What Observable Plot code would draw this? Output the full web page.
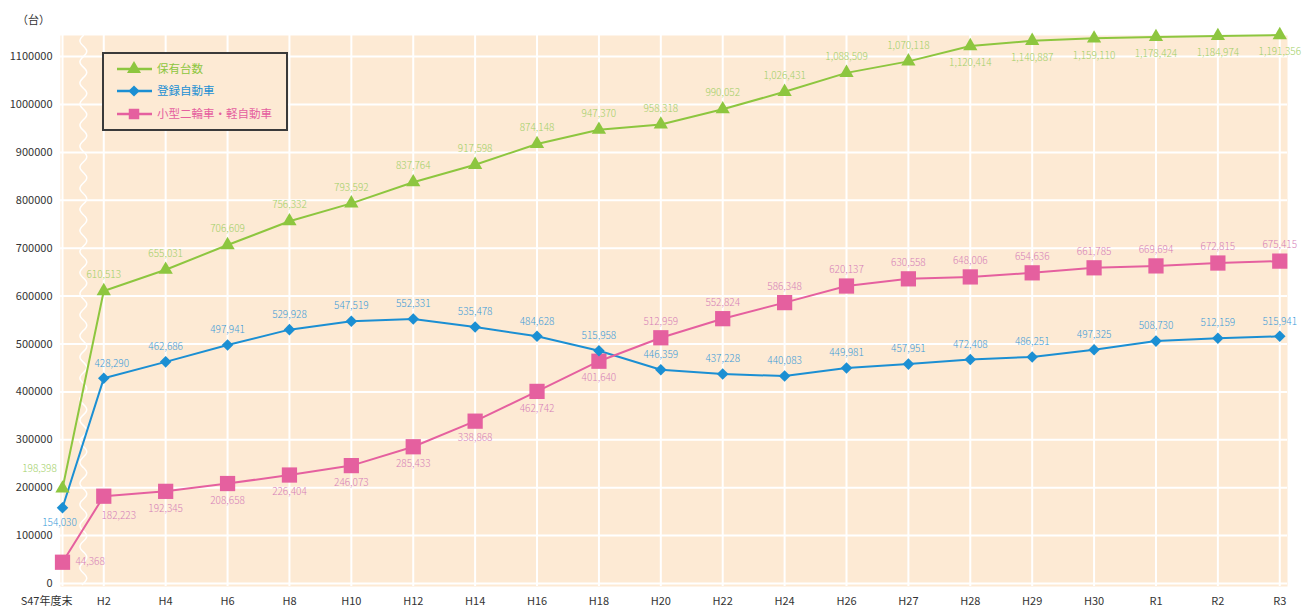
<!DOCTYPE html>
<html>
<head>
<meta charset="utf-8">
<script src="https://cdn.jsdelivr.net/npm/d3@7"></script>
<script src="https://cdn.jsdelivr.net/npm/@observablehq/plot@0.6"></script>
<style>
  body { margin: 0; background: #ffffff; font-family: "Noto Sans CJK JP", "Noto Sans", sans-serif; }
  #wrap { position: relative; width: 1302px; height: 610px; }
  #unit { position: absolute; left: 17px; top: 11px; font-size: 11px; color: #333; }
  #legend { position: absolute; left: 102px; top: 52px; width: 182px; height: 75px; border: 2px solid #3a3a3a; background: #fdead4; }
  #legend svg { display: block; }
</style>
</head>
<body>
<div id="wrap">
  <div id="chart"></div>
  <div id="unit">（台）</div>
  <div id="legend"></div>
</div>
<script>
// ---- data ----
const categories = ["S47年度末","H2","H4","H6","H8","H10","H12","H14","H16","H18","H20","H22","H24","H26","H27","H28","H29","H30","R1","R2","R3"];
const seriesNames = ["保有台数","登録自動車","小型二輪車・軽自動車"];

const totalValues = [198398, 610513, 655031, 706609, 756332, 793592, 837764, 874148, 917598, 947370, 958318, 990052, 1026431, 1066000, 1090000, 1122000, 1133000, 1138000, 1141000, 1143000, 1145000];
const totalLabels = ["198,398","610,513","655,031","706,609","756,332","793,592","837,764","917,598","874,148","947,370","958,318","990,052","1,026,431","1,088,509","1,070,118","1,120,414","1,140,887","1,159,110","1,178,424","1,184,974","1,191,356"];

const registeredValues = [158000, 428290, 462686, 497941, 529928, 547519, 552331, 535478, 516000, 486000, 446359, 437228, 433000, 449981, 457951, 467500, 473000, 488000, 506000, 512159, 515941];
const registeredLabels = ["154,030","428,290","462,686","497,941","529,928","547,519","552,331","535,478","484,628","515,958","446,359","437,228","440,083","449,981","457,951","472,408","486,251","497,325","508,730","512,159","515,941"];

const lightValues = [44368, 182223, 192345, 208658, 226404, 246073, 285433, 338868, 401000, 464000, 512959, 552824, 586348, 621000, 636000, 640000, 648500, 659000, 663000, 669000, 673000];
const lightLabels = ["44,368","182,223","192,345","208,658","226,404","246,073","285,433","338,868","462,742","401,640","512,959","552,824","586,348","620,137","630,558","648,006","654,636","661,785","669,694","672,815","675,415"];

const yTicks = [0,100000,200000,300000,400000,500000,600000,700000,800000,900000,1000000,1100000];

// ---- styles ----
const lineColors = ["#8dc63f", "#1b8fd3", "#e5609f"];
const labelColors = ["#a2cf66", "#3a9ad9", "#d680b8"];
const symbols = ["triangle", "diamond2", "square"];
const symbolR = [5.3, 5.2, 8.6];
const bg = "#fdead4";

// x position: the first year sits closer (axis break)
const xPos = categories.map((c, i) => i === 0 ? 1/3 : i);
const xLabel = new Map(xPos.map((x, i) => [x, categories[i]]));

const allValues = [totalValues, registeredValues, lightValues];
const allLabels = [totalLabels, registeredLabels, lightLabels];
const rows = [];
allValues.forEach((vals, k) => vals.forEach((v, i) => rows.push({k, i, x: xPos[i], v, label: allLabels[k][i]})));
const S = k => rows.filter(d => d.k === k);

// decorative break squiggle
const wave = d3.range(1144000, -6400, -6000).map(y => ({y, x: 0.67 + 0.055 * Math.sin(y / 44000 * 2 * Math.PI)}));

const fontFamily = '"Noto Sans CJK JP", "Noto Sans", sans-serif';
const txt = (data, k, o) => Plot.text(data, {x: "x", y: "v", text: "label", fill: labelColors[k], fontSize: 10, fontWeight: 300, ...o});

const marks = [
  Plot.frame({fill: bg, stroke: "none"}),
  Plot.ruleY(yTicks, {stroke: "#ffffff", strokeWidth: 2}),
  Plot.ruleX(xPos, {stroke: "#ffffff", strokeWidth: 2}),
  Plot.line(wave, {x: "x", y: "y", stroke: "#ffffff", strokeWidth: 1.5, curve: "natural"}),
  Plot.axisY({ticks: yTicks, tickFormat: d3.format("d"), tickSize: 0, tickPadding: 8, fontSize: 11, color: "#333", label: null}),
  Plot.axisX({ticks: [xPos[0]], tickFormat: d => xLabel.get(d), tickSize: 0, tickPadding: 11, dx: -16, fontSize: 11, color: "#333", label: null}),
  Plot.axisX({ticks: xPos.slice(1), tickFormat: d => xLabel.get(d), tickSize: 0, tickPadding: 11, fontSize: 11, color: "#333", label: null})
];
[0, 1, 2].forEach(k => {
  marks.push(Plot.line(S(k), {x: "x", y: "v", stroke: lineColors[k], strokeWidth: 2}));
});
[2, 1, 0].forEach(k => {
  marks.push(Plot.dot(S(k), {x: "x", y: "v", symbol: symbols[k], r: symbolR[k], fill: lineColors[k], stroke: "none"}));
});
// labels: total
marks.push(txt(S(0).filter(d => d.i === 0), 0, {dx: -23, dy: -20}));
marks.push(txt(S(0).filter(d => d.i >= 1 && d.i <= 14), 0, {dy: -16}));
marks.push(txt(S(0).filter(d => d.i >= 15), 0, {dy: 17}));
// labels: registered
marks.push(txt(S(1).filter(d => d.i === 0), 1, {dx: -3, dy: 15}));
marks.push(txt(S(1).filter(d => d.i === 1), 1, {dx: 8, dy: -15}));
marks.push(txt(S(1).filter(d => d.i >= 2), 1, {dy: -15}));
// labels: light vehicles
marks.push(txt(S(2).filter(d => d.i === 0), 2, {dx: 13, textAnchor: "start"}));
marks.push(txt(S(2).filter(d => d.i === 1), 2, {dx: 15, dy: 20}));
marks.push(txt(S(2).filter(d => d.i >= 2 && d.i <= 9), 2, {dy: 17}));
marks.push(txt(S(2).filter(d => d.i >= 10), 2, {dy: -16}));

const chart = Plot.plot({
  width: 1302,
  height: 610,
  marginLeft: 60,
  marginRight: 15,
  marginTop: 35,
  marginBottom: 24,
  style: {fontFamily, background: "transparent", overflow: "visible"},
  x: {type: "linear", domain: [0.301, 20.125], axis: null},
  y: {domain: [-6300, 1144000], axis: null},
  marks
});
document.getElementById("chart").appendChild(chart);

// ---- legend ----
const lg = d3.select("#legend").append("svg").attr("width", 182).attr("height", 75);
const rowY = [15, 37, 60];
seriesNames.forEach((name, k) => {
  const g = lg.append("g").attr("transform", `translate(0,${rowY[k]})`);
  g.append("line").attr("x1", 13).attr("x2", 48).attr("y1", 0).attr("y2", 0)
    .attr("stroke", lineColors[k]).attr("stroke-width", 2.5);
  const sym = [d3.symbolTriangle, d3.symbolDiamond2, d3.symbolSquare][k];
  const size = [85, 80, 110][k];
  g.append("path").attr("d", d3.symbol(sym, size)()).attr("transform", "translate(30,0)").attr("fill", lineColors[k]);
  g.append("text").attr("x", 53).attr("y", 0).attr("dy", "0.35em")
    .attr("font-size", 11.5).attr("fill", lineColors[k]).attr("font-family", fontFamily).text(name);
});
</script>
</body>
</html>
